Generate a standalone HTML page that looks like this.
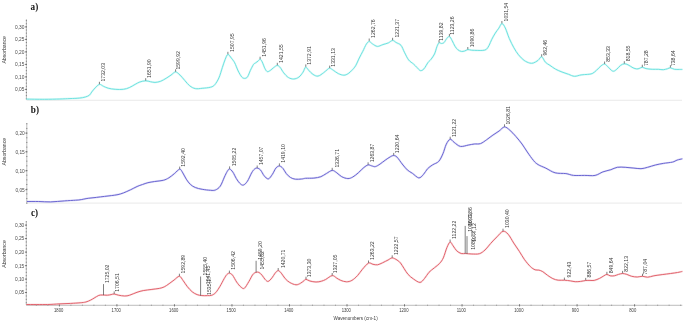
<!DOCTYPE html>
<html><head><meta charset="utf-8"><title>FTIR spectra</title>
<style>
html,body{margin:0;padding:0;background:#fff;width:685px;height:324px;overflow:hidden;font-family:"Liberation Sans",sans-serif;}
svg{display:block;will-change:transform;}
</style></head><body>
<svg width="685" height="324" viewBox="0 0 685 324" font-family="Liberation Sans, sans-serif" fill="#333"><rect x="0" y="0" width="685" height="324" fill="#fff"/>
<line x1="26.5" y1="100.3" x2="682" y2="100.3" stroke="#e4e4e4" stroke-width="0.8"/>
<line x1="26.5" y1="203.1" x2="682" y2="203.1" stroke="#e4e4e4" stroke-width="0.8"/>
<text x="0" y="9.90" font-family="Liberation Serif" font-weight="bold" font-size="10" fill="#111" transform="translate(30.60,0) scale(0.92,1)">a)</text>
<text x="0" y="112.70" font-family="Liberation Serif" font-weight="bold" font-size="10" fill="#111" transform="translate(30.80,0) scale(0.92,1)">b)</text>
<text x="0" y="215.80" font-family="Liberation Serif" font-weight="bold" font-size="10" fill="#111" transform="translate(30.90,0) scale(0.92,1)">c)</text>
<line x1="26.40" y1="19.20" x2="26.40" y2="99.60" stroke="#a0a0a0" stroke-width="0.7"/><line x1="25.85" y1="20.65" x2="26.95" y2="20.65" stroke="#707070" stroke-width="0.8"/><line x1="25.85" y1="23.77" x2="26.95" y2="23.77" stroke="#707070" stroke-width="0.8"/><line x1="25.85" y1="26.90" x2="26.95" y2="26.90" stroke="#707070" stroke-width="0.8"/><line x1="25.85" y1="30.02" x2="26.95" y2="30.02" stroke="#707070" stroke-width="0.8"/><line x1="25.85" y1="33.15" x2="26.95" y2="33.15" stroke="#707070" stroke-width="0.8"/><line x1="25.85" y1="36.27" x2="26.95" y2="36.27" stroke="#707070" stroke-width="0.8"/><line x1="25.85" y1="39.40" x2="26.95" y2="39.40" stroke="#707070" stroke-width="0.8"/><line x1="25.85" y1="42.52" x2="26.95" y2="42.52" stroke="#707070" stroke-width="0.8"/><line x1="25.85" y1="45.65" x2="26.95" y2="45.65" stroke="#707070" stroke-width="0.8"/><line x1="25.85" y1="48.77" x2="26.95" y2="48.77" stroke="#707070" stroke-width="0.8"/><line x1="25.85" y1="51.90" x2="26.95" y2="51.90" stroke="#707070" stroke-width="0.8"/><line x1="25.85" y1="55.02" x2="26.95" y2="55.02" stroke="#707070" stroke-width="0.8"/><line x1="25.85" y1="58.15" x2="26.95" y2="58.15" stroke="#707070" stroke-width="0.8"/><line x1="25.85" y1="61.27" x2="26.95" y2="61.27" stroke="#707070" stroke-width="0.8"/><line x1="25.85" y1="64.40" x2="26.95" y2="64.40" stroke="#707070" stroke-width="0.8"/><line x1="25.85" y1="67.53" x2="26.95" y2="67.53" stroke="#707070" stroke-width="0.8"/><line x1="25.85" y1="70.65" x2="26.95" y2="70.65" stroke="#707070" stroke-width="0.8"/><line x1="25.85" y1="73.78" x2="26.95" y2="73.78" stroke="#707070" stroke-width="0.8"/><line x1="25.85" y1="76.90" x2="26.95" y2="76.90" stroke="#707070" stroke-width="0.8"/><line x1="25.85" y1="80.03" x2="26.95" y2="80.03" stroke="#707070" stroke-width="0.8"/><line x1="25.85" y1="83.15" x2="26.95" y2="83.15" stroke="#707070" stroke-width="0.8"/><line x1="25.85" y1="86.28" x2="26.95" y2="86.28" stroke="#707070" stroke-width="0.8"/><line x1="25.85" y1="89.40" x2="26.95" y2="89.40" stroke="#707070" stroke-width="0.8"/><line x1="25.85" y1="92.53" x2="26.95" y2="92.53" stroke="#707070" stroke-width="0.8"/><line x1="25.85" y1="95.65" x2="26.95" y2="95.65" stroke="#707070" stroke-width="0.8"/><line x1="25.85" y1="98.78" x2="26.95" y2="98.78" stroke="#707070" stroke-width="0.8"/><line x1="25.00" y1="26.90" x2="26.80" y2="26.90" stroke="#555" stroke-width="0.75"/><text x="24.40" y="28.75" font-size="5.30" text-anchor="end" textLength="9.4" lengthAdjust="spacingAndGlyphs" fill="#4a4a4a">0,30</text><line x1="25.00" y1="39.40" x2="26.80" y2="39.40" stroke="#555" stroke-width="0.75"/><text x="24.40" y="41.25" font-size="5.30" text-anchor="end" textLength="9.4" lengthAdjust="spacingAndGlyphs" fill="#4a4a4a">0,25</text><line x1="25.00" y1="51.90" x2="26.80" y2="51.90" stroke="#555" stroke-width="0.75"/><text x="24.40" y="53.75" font-size="5.30" text-anchor="end" textLength="9.4" lengthAdjust="spacingAndGlyphs" fill="#4a4a4a">0,20</text><line x1="25.00" y1="64.40" x2="26.80" y2="64.40" stroke="#555" stroke-width="0.75"/><text x="24.40" y="66.25" font-size="5.30" text-anchor="end" textLength="9.4" lengthAdjust="spacingAndGlyphs" fill="#4a4a4a">0,15</text><line x1="25.00" y1="76.90" x2="26.80" y2="76.90" stroke="#555" stroke-width="0.75"/><text x="24.40" y="78.75" font-size="5.30" text-anchor="end" textLength="9.4" lengthAdjust="spacingAndGlyphs" fill="#4a4a4a">0,10</text><line x1="25.00" y1="89.40" x2="26.80" y2="89.40" stroke="#555" stroke-width="0.75"/><text x="24.40" y="91.25" font-size="5.30" text-anchor="end" textLength="9.4" lengthAdjust="spacingAndGlyphs" fill="#4a4a4a">0,05</text>
<line x1="26.80" y1="123.00" x2="26.80" y2="203.40" stroke="#a0a0a0" stroke-width="0.7"/><line x1="26.25" y1="123.75" x2="27.35" y2="123.75" stroke="#707070" stroke-width="0.8"/><line x1="26.25" y1="128.43" x2="27.35" y2="128.43" stroke="#707070" stroke-width="0.8"/><line x1="26.25" y1="133.10" x2="27.35" y2="133.10" stroke="#707070" stroke-width="0.8"/><line x1="26.25" y1="137.78" x2="27.35" y2="137.78" stroke="#707070" stroke-width="0.8"/><line x1="26.25" y1="142.45" x2="27.35" y2="142.45" stroke="#707070" stroke-width="0.8"/><line x1="26.25" y1="147.13" x2="27.35" y2="147.13" stroke="#707070" stroke-width="0.8"/><line x1="26.25" y1="151.80" x2="27.35" y2="151.80" stroke="#707070" stroke-width="0.8"/><line x1="26.25" y1="156.48" x2="27.35" y2="156.48" stroke="#707070" stroke-width="0.8"/><line x1="26.25" y1="161.15" x2="27.35" y2="161.15" stroke="#707070" stroke-width="0.8"/><line x1="26.25" y1="165.83" x2="27.35" y2="165.83" stroke="#707070" stroke-width="0.8"/><line x1="26.25" y1="170.50" x2="27.35" y2="170.50" stroke="#707070" stroke-width="0.8"/><line x1="26.25" y1="175.18" x2="27.35" y2="175.18" stroke="#707070" stroke-width="0.8"/><line x1="26.25" y1="179.85" x2="27.35" y2="179.85" stroke="#707070" stroke-width="0.8"/><line x1="26.25" y1="184.53" x2="27.35" y2="184.53" stroke="#707070" stroke-width="0.8"/><line x1="26.25" y1="189.20" x2="27.35" y2="189.20" stroke="#707070" stroke-width="0.8"/><line x1="26.25" y1="193.88" x2="27.35" y2="193.88" stroke="#707070" stroke-width="0.8"/><line x1="26.25" y1="198.55" x2="27.35" y2="198.55" stroke="#707070" stroke-width="0.8"/><line x1="26.25" y1="203.23" x2="27.35" y2="203.23" stroke="#707070" stroke-width="0.8"/><line x1="25.40" y1="133.10" x2="27.20" y2="133.10" stroke="#555" stroke-width="0.75"/><text x="24.80" y="134.95" font-size="5.30" text-anchor="end" textLength="9.4" lengthAdjust="spacingAndGlyphs" fill="#4a4a4a">0,20</text><line x1="25.40" y1="151.80" x2="27.20" y2="151.80" stroke="#555" stroke-width="0.75"/><text x="24.80" y="153.65" font-size="5.30" text-anchor="end" textLength="9.4" lengthAdjust="spacingAndGlyphs" fill="#4a4a4a">0,15</text><line x1="25.40" y1="170.80" x2="27.20" y2="170.80" stroke="#555" stroke-width="0.75"/><text x="24.80" y="172.65" font-size="5.30" text-anchor="end" textLength="9.4" lengthAdjust="spacingAndGlyphs" fill="#4a4a4a">0,10</text><line x1="25.40" y1="189.70" x2="27.20" y2="189.70" stroke="#555" stroke-width="0.75"/><text x="24.80" y="191.55" font-size="5.30" text-anchor="end" textLength="9.4" lengthAdjust="spacingAndGlyphs" fill="#4a4a4a">0,05</text>
<line x1="26.30" y1="221.40" x2="26.30" y2="305.00" stroke="#a0a0a0" stroke-width="0.7"/><line x1="25.75" y1="221.72" x2="26.85" y2="221.72" stroke="#707070" stroke-width="0.8"/><line x1="25.75" y1="225.10" x2="26.85" y2="225.10" stroke="#707070" stroke-width="0.8"/><line x1="25.75" y1="228.47" x2="26.85" y2="228.47" stroke="#707070" stroke-width="0.8"/><line x1="25.75" y1="231.85" x2="26.85" y2="231.85" stroke="#707070" stroke-width="0.8"/><line x1="25.75" y1="235.22" x2="26.85" y2="235.22" stroke="#707070" stroke-width="0.8"/><line x1="25.75" y1="238.60" x2="26.85" y2="238.60" stroke="#707070" stroke-width="0.8"/><line x1="25.75" y1="241.97" x2="26.85" y2="241.97" stroke="#707070" stroke-width="0.8"/><line x1="25.75" y1="245.35" x2="26.85" y2="245.35" stroke="#707070" stroke-width="0.8"/><line x1="25.75" y1="248.72" x2="26.85" y2="248.72" stroke="#707070" stroke-width="0.8"/><line x1="25.75" y1="252.10" x2="26.85" y2="252.10" stroke="#707070" stroke-width="0.8"/><line x1="25.75" y1="255.47" x2="26.85" y2="255.47" stroke="#707070" stroke-width="0.8"/><line x1="25.75" y1="258.85" x2="26.85" y2="258.85" stroke="#707070" stroke-width="0.8"/><line x1="25.75" y1="262.23" x2="26.85" y2="262.23" stroke="#707070" stroke-width="0.8"/><line x1="25.75" y1="265.60" x2="26.85" y2="265.60" stroke="#707070" stroke-width="0.8"/><line x1="25.75" y1="268.98" x2="26.85" y2="268.98" stroke="#707070" stroke-width="0.8"/><line x1="25.75" y1="272.35" x2="26.85" y2="272.35" stroke="#707070" stroke-width="0.8"/><line x1="25.75" y1="275.73" x2="26.85" y2="275.73" stroke="#707070" stroke-width="0.8"/><line x1="25.75" y1="279.10" x2="26.85" y2="279.10" stroke="#707070" stroke-width="0.8"/><line x1="25.75" y1="282.48" x2="26.85" y2="282.48" stroke="#707070" stroke-width="0.8"/><line x1="25.75" y1="285.85" x2="26.85" y2="285.85" stroke="#707070" stroke-width="0.8"/><line x1="25.75" y1="289.23" x2="26.85" y2="289.23" stroke="#707070" stroke-width="0.8"/><line x1="25.75" y1="292.60" x2="26.85" y2="292.60" stroke="#707070" stroke-width="0.8"/><line x1="25.75" y1="295.98" x2="26.85" y2="295.98" stroke="#707070" stroke-width="0.8"/><line x1="25.75" y1="299.35" x2="26.85" y2="299.35" stroke="#707070" stroke-width="0.8"/><line x1="25.75" y1="302.73" x2="26.85" y2="302.73" stroke="#707070" stroke-width="0.8"/><line x1="24.90" y1="225.10" x2="26.70" y2="225.10" stroke="#555" stroke-width="0.75"/><text x="24.30" y="226.95" font-size="5.30" text-anchor="end" textLength="9.4" lengthAdjust="spacingAndGlyphs" fill="#4a4a4a">0,30</text><line x1="24.90" y1="238.60" x2="26.70" y2="238.60" stroke="#555" stroke-width="0.75"/><text x="24.30" y="240.45" font-size="5.30" text-anchor="end" textLength="9.4" lengthAdjust="spacingAndGlyphs" fill="#4a4a4a">0,25</text><line x1="24.90" y1="252.10" x2="26.70" y2="252.10" stroke="#555" stroke-width="0.75"/><text x="24.30" y="253.95" font-size="5.30" text-anchor="end" textLength="9.4" lengthAdjust="spacingAndGlyphs" fill="#4a4a4a">0,20</text><line x1="24.90" y1="265.70" x2="26.70" y2="265.70" stroke="#555" stroke-width="0.75"/><text x="24.30" y="267.55" font-size="5.30" text-anchor="end" textLength="9.4" lengthAdjust="spacingAndGlyphs" fill="#4a4a4a">0,15</text><line x1="24.90" y1="279.10" x2="26.70" y2="279.10" stroke="#555" stroke-width="0.75"/><text x="24.30" y="280.95" font-size="5.30" text-anchor="end" textLength="9.4" lengthAdjust="spacingAndGlyphs" fill="#4a4a4a">0,10</text><line x1="24.90" y1="292.50" x2="26.70" y2="292.50" stroke="#555" stroke-width="0.75"/><text x="24.30" y="294.35" font-size="5.30" text-anchor="end" textLength="9.4" lengthAdjust="spacingAndGlyphs" fill="#4a4a4a">0,05</text>
<text transform="translate(6.30,49.80) rotate(-90)" font-size="5.1" text-anchor="middle" textLength="27.6" lengthAdjust="spacingAndGlyphs" fill="#3c3c3c">Absorbance</text>
<text transform="translate(6.30,151.70) rotate(-90)" font-size="5.1" text-anchor="middle" textLength="27.6" lengthAdjust="spacingAndGlyphs" fill="#3c3c3c">Absorbance</text>
<text transform="translate(6.30,254.00) rotate(-90)" font-size="5.1" text-anchor="middle" textLength="27.6" lengthAdjust="spacingAndGlyphs" fill="#3c3c3c">Absorbance</text>
<line x1="26.2" y1="305.3" x2="682.3" y2="305.3" stroke="#a0a0a0" stroke-width="0.7"/><line x1="36.39" y1="304.6" x2="36.39" y2="306.0" stroke="#8a8a8a" stroke-width="0.6"/><line x1="47.90" y1="304.6" x2="47.90" y2="306.0" stroke="#8a8a8a" stroke-width="0.6"/><line x1="59.40" y1="304.2" x2="59.40" y2="306.5" stroke="#555" stroke-width="0.75"/><text x="54.05" y="311.9" font-size="5.00" text-anchor="start" textLength="9.30" lengthAdjust="spacingAndGlyphs" fill="#3c3c3c">1800</text><line x1="70.90" y1="304.6" x2="70.90" y2="306.0" stroke="#8a8a8a" stroke-width="0.6"/><line x1="82.41" y1="304.6" x2="82.41" y2="306.0" stroke="#8a8a8a" stroke-width="0.6"/><line x1="93.91" y1="304.6" x2="93.91" y2="306.0" stroke="#8a8a8a" stroke-width="0.6"/><line x1="105.42" y1="304.6" x2="105.42" y2="306.0" stroke="#8a8a8a" stroke-width="0.6"/><line x1="116.92" y1="304.2" x2="116.92" y2="306.5" stroke="#555" stroke-width="0.75"/><text x="111.57" y="311.9" font-size="5.00" text-anchor="start" textLength="9.30" lengthAdjust="spacingAndGlyphs" fill="#3c3c3c">1700</text><line x1="128.42" y1="304.6" x2="128.42" y2="306.0" stroke="#8a8a8a" stroke-width="0.6"/><line x1="139.93" y1="304.6" x2="139.93" y2="306.0" stroke="#8a8a8a" stroke-width="0.6"/><line x1="151.43" y1="304.6" x2="151.43" y2="306.0" stroke="#8a8a8a" stroke-width="0.6"/><line x1="162.94" y1="304.6" x2="162.94" y2="306.0" stroke="#8a8a8a" stroke-width="0.6"/><line x1="174.44" y1="304.2" x2="174.44" y2="306.5" stroke="#555" stroke-width="0.75"/><text x="169.09" y="311.9" font-size="5.00" text-anchor="start" textLength="9.30" lengthAdjust="spacingAndGlyphs" fill="#3c3c3c">1600</text><line x1="185.94" y1="304.6" x2="185.94" y2="306.0" stroke="#8a8a8a" stroke-width="0.6"/><line x1="197.45" y1="304.6" x2="197.45" y2="306.0" stroke="#8a8a8a" stroke-width="0.6"/><line x1="208.95" y1="304.6" x2="208.95" y2="306.0" stroke="#8a8a8a" stroke-width="0.6"/><line x1="220.46" y1="304.6" x2="220.46" y2="306.0" stroke="#8a8a8a" stroke-width="0.6"/><line x1="231.96" y1="304.2" x2="231.96" y2="306.5" stroke="#555" stroke-width="0.75"/><text x="226.61" y="311.9" font-size="5.00" text-anchor="start" textLength="9.30" lengthAdjust="spacingAndGlyphs" fill="#3c3c3c">1500</text><line x1="243.46" y1="304.6" x2="243.46" y2="306.0" stroke="#8a8a8a" stroke-width="0.6"/><line x1="254.97" y1="304.6" x2="254.97" y2="306.0" stroke="#8a8a8a" stroke-width="0.6"/><line x1="266.47" y1="304.6" x2="266.47" y2="306.0" stroke="#8a8a8a" stroke-width="0.6"/><line x1="277.98" y1="304.6" x2="277.98" y2="306.0" stroke="#8a8a8a" stroke-width="0.6"/><line x1="289.48" y1="304.2" x2="289.48" y2="306.5" stroke="#555" stroke-width="0.75"/><text x="284.13" y="311.9" font-size="5.00" text-anchor="start" textLength="9.30" lengthAdjust="spacingAndGlyphs" fill="#3c3c3c">1400</text><line x1="300.98" y1="304.6" x2="300.98" y2="306.0" stroke="#8a8a8a" stroke-width="0.6"/><line x1="312.49" y1="304.6" x2="312.49" y2="306.0" stroke="#8a8a8a" stroke-width="0.6"/><line x1="323.99" y1="304.6" x2="323.99" y2="306.0" stroke="#8a8a8a" stroke-width="0.6"/><line x1="335.50" y1="304.6" x2="335.50" y2="306.0" stroke="#8a8a8a" stroke-width="0.6"/><line x1="347.00" y1="304.2" x2="347.00" y2="306.5" stroke="#555" stroke-width="0.75"/><text x="341.65" y="311.9" font-size="5.00" text-anchor="start" textLength="9.30" lengthAdjust="spacingAndGlyphs" fill="#3c3c3c">1300</text><line x1="358.50" y1="304.6" x2="358.50" y2="306.0" stroke="#8a8a8a" stroke-width="0.6"/><line x1="370.01" y1="304.6" x2="370.01" y2="306.0" stroke="#8a8a8a" stroke-width="0.6"/><line x1="381.51" y1="304.6" x2="381.51" y2="306.0" stroke="#8a8a8a" stroke-width="0.6"/><line x1="393.02" y1="304.6" x2="393.02" y2="306.0" stroke="#8a8a8a" stroke-width="0.6"/><line x1="404.52" y1="304.2" x2="404.52" y2="306.5" stroke="#555" stroke-width="0.75"/><text x="399.17" y="311.9" font-size="5.00" text-anchor="start" textLength="9.30" lengthAdjust="spacingAndGlyphs" fill="#3c3c3c">1200</text><line x1="416.02" y1="304.6" x2="416.02" y2="306.0" stroke="#8a8a8a" stroke-width="0.6"/><line x1="427.53" y1="304.6" x2="427.53" y2="306.0" stroke="#8a8a8a" stroke-width="0.6"/><line x1="439.03" y1="304.6" x2="439.03" y2="306.0" stroke="#8a8a8a" stroke-width="0.6"/><line x1="450.54" y1="304.6" x2="450.54" y2="306.0" stroke="#8a8a8a" stroke-width="0.6"/><line x1="462.04" y1="304.2" x2="462.04" y2="306.5" stroke="#555" stroke-width="0.75"/><text x="456.69" y="311.9" font-size="5.00" text-anchor="start" textLength="9.30" lengthAdjust="spacingAndGlyphs" fill="#3c3c3c">1100</text><line x1="473.54" y1="304.6" x2="473.54" y2="306.0" stroke="#8a8a8a" stroke-width="0.6"/><line x1="485.05" y1="304.6" x2="485.05" y2="306.0" stroke="#8a8a8a" stroke-width="0.6"/><line x1="496.55" y1="304.6" x2="496.55" y2="306.0" stroke="#8a8a8a" stroke-width="0.6"/><line x1="508.06" y1="304.6" x2="508.06" y2="306.0" stroke="#8a8a8a" stroke-width="0.6"/><line x1="519.56" y1="304.2" x2="519.56" y2="306.5" stroke="#555" stroke-width="0.75"/><text x="514.21" y="311.9" font-size="5.00" text-anchor="start" textLength="9.30" lengthAdjust="spacingAndGlyphs" fill="#3c3c3c">1000</text><line x1="531.06" y1="304.6" x2="531.06" y2="306.0" stroke="#8a8a8a" stroke-width="0.6"/><line x1="542.57" y1="304.6" x2="542.57" y2="306.0" stroke="#8a8a8a" stroke-width="0.6"/><line x1="554.07" y1="304.6" x2="554.07" y2="306.0" stroke="#8a8a8a" stroke-width="0.6"/><line x1="565.58" y1="304.6" x2="565.58" y2="306.0" stroke="#8a8a8a" stroke-width="0.6"/><line x1="577.08" y1="304.2" x2="577.08" y2="306.5" stroke="#555" stroke-width="0.75"/><text x="571.73" y="311.9" font-size="5.00" text-anchor="start" textLength="7.00" lengthAdjust="spacingAndGlyphs" fill="#3c3c3c">900</text><line x1="588.58" y1="304.6" x2="588.58" y2="306.0" stroke="#8a8a8a" stroke-width="0.6"/><line x1="600.09" y1="304.6" x2="600.09" y2="306.0" stroke="#8a8a8a" stroke-width="0.6"/><line x1="611.59" y1="304.6" x2="611.59" y2="306.0" stroke="#8a8a8a" stroke-width="0.6"/><line x1="623.10" y1="304.6" x2="623.10" y2="306.0" stroke="#8a8a8a" stroke-width="0.6"/><line x1="634.60" y1="304.2" x2="634.60" y2="306.5" stroke="#555" stroke-width="0.75"/><text x="629.25" y="311.9" font-size="5.00" text-anchor="start" textLength="7.00" lengthAdjust="spacingAndGlyphs" fill="#3c3c3c">800</text><line x1="646.10" y1="304.6" x2="646.10" y2="306.0" stroke="#8a8a8a" stroke-width="0.6"/><line x1="657.61" y1="304.6" x2="657.61" y2="306.0" stroke="#8a8a8a" stroke-width="0.6"/><line x1="669.11" y1="304.6" x2="669.11" y2="306.0" stroke="#8a8a8a" stroke-width="0.6"/><line x1="680.62" y1="304.6" x2="680.62" y2="306.0" stroke="#8a8a8a" stroke-width="0.6"/>
<text x="355.6" y="320.3" font-size="5.2" text-anchor="middle" textLength="44.2" lengthAdjust="spacingAndGlyphs" fill="#3c3c3c">Wavenumbers (cm-1)</text>
<path d="M26.30,99.10 C29.32,99.13 38.82,99.32 44.40,99.30 C49.98,99.28 55.53,99.12 59.80,99.00 C64.07,98.88 66.77,98.75 70.00,98.60 C73.23,98.45 76.65,98.37 79.20,98.10 C81.75,97.83 83.60,97.48 85.30,97.00 C87.00,96.52 88.33,96.03 89.40,95.20 C90.47,94.37 90.73,93.22 91.70,92.00 C92.67,90.78 93.92,89.17 95.20,87.90 C96.48,86.63 98.02,84.67 99.40,84.40 C100.78,84.13 102.03,85.67 103.50,86.30 C104.97,86.93 106.25,87.70 108.20,88.20 C110.15,88.70 112.67,89.12 115.20,89.30 C117.73,89.48 121.05,89.58 123.40,89.30 C125.75,89.02 127.35,88.42 129.30,87.60 C131.25,86.78 133.35,85.33 135.10,84.40 C136.85,83.47 138.03,82.60 139.80,82.00 C141.57,81.40 143.93,80.85 145.70,80.80 C147.47,80.75 148.85,81.43 150.40,81.70 C151.95,81.97 153.30,82.47 155.00,82.40 C156.70,82.33 158.75,81.98 160.60,81.30 C162.45,80.62 164.37,79.33 166.10,78.30 C167.83,77.27 169.42,76.17 171.00,75.10 C172.58,74.03 174.10,71.90 175.60,71.90 C177.10,71.90 178.45,73.65 180.00,75.10 C181.55,76.55 183.28,78.82 184.90,80.60 C186.52,82.38 187.97,84.47 189.70,85.80 C191.43,87.13 193.22,88.18 195.30,88.60 C197.38,89.02 199.65,88.53 202.20,88.30 C204.75,88.07 208.52,87.78 210.60,87.20 C212.68,86.62 213.32,86.35 214.70,84.80 C216.08,83.25 217.62,80.80 218.90,77.90 C220.18,75.00 221.37,70.45 222.40,67.40 C223.43,64.35 224.18,61.77 225.10,59.60 C226.02,57.43 226.85,54.63 227.90,54.40 C228.95,54.17 230.27,56.80 231.40,58.20 C232.53,59.60 233.57,60.67 234.70,62.80 C235.83,64.93 237.03,68.65 238.20,71.00 C239.37,73.35 240.63,75.67 241.70,76.90 C242.77,78.13 243.63,78.40 244.60,78.40 C245.57,78.40 246.53,78.23 247.50,76.90 C248.47,75.57 249.42,72.45 250.40,70.40 C251.38,68.35 252.52,65.87 253.40,64.60 C254.28,63.33 254.93,63.38 255.70,62.80 C256.47,62.22 257.27,61.68 258.00,61.10 C258.73,60.52 259.42,59.20 260.10,59.30 C260.78,59.40 261.28,60.13 262.10,61.70 C262.92,63.27 264.12,67.05 265.00,68.70 C265.88,70.35 266.52,71.32 267.40,71.60 C268.28,71.88 269.23,71.08 270.30,70.40 C271.37,69.72 272.63,68.33 273.80,67.50 C274.97,66.67 276.23,65.40 277.30,65.40 C278.37,65.40 279.13,66.27 280.20,67.50 C281.27,68.73 282.33,71.13 283.70,72.80 C285.07,74.47 286.73,76.47 288.40,77.50 C290.07,78.53 291.95,79.07 293.70,79.00 C295.45,78.93 297.35,78.23 298.90,77.10 C300.45,75.97 301.88,73.85 303.00,72.20 C304.12,70.55 304.65,67.52 305.60,67.20 C306.55,66.88 307.47,69.10 308.70,70.30 C309.93,71.50 311.45,73.43 313.00,74.40 C314.55,75.37 316.25,76.37 318.00,76.10 C319.75,75.83 321.97,73.87 323.50,72.80 C325.03,71.73 326.17,70.47 327.20,69.70 C328.23,68.93 328.67,68.10 329.70,68.20 C330.73,68.30 331.97,69.40 333.40,70.30 C334.83,71.20 336.55,72.78 338.30,73.60 C340.05,74.42 342.25,75.20 343.90,75.20 C345.55,75.20 346.87,74.42 348.20,73.60 C349.53,72.78 350.67,71.60 351.90,70.30 C353.13,69.00 354.37,67.85 355.60,65.80 C356.83,63.75 358.10,60.42 359.30,58.00 C360.50,55.58 361.63,53.60 362.80,51.30 C363.97,49.00 365.23,45.83 366.30,44.20 C367.37,42.57 368.17,41.55 369.20,41.50 C370.23,41.45 371.13,43.08 372.50,43.90 C373.87,44.72 375.67,46.28 377.40,46.40 C379.13,46.52 381.05,45.20 382.90,44.60 C384.75,44.00 386.88,43.50 388.50,42.80 C390.12,42.10 391.33,40.45 392.60,40.40 C393.87,40.35 394.70,41.68 396.10,42.50 C397.50,43.32 399.62,43.68 401.00,45.30 C402.38,46.92 403.13,49.77 404.40,52.20 C405.67,54.63 407.08,57.93 408.60,59.90 C410.12,61.87 412.10,62.73 413.50,64.00 C414.90,65.27 415.85,66.40 417.00,67.50 C418.15,68.60 419.25,70.37 420.40,70.60 C421.55,70.83 422.63,70.25 423.90,68.90 C425.17,67.55 426.82,64.10 428.00,62.50 C429.18,60.90 429.92,60.72 431.00,59.30 C432.08,57.88 433.50,56.13 434.50,54.00 C435.50,51.87 436.25,48.37 437.00,46.50 C437.75,44.63 438.25,43.30 439.00,42.80 C439.75,42.30 440.67,43.53 441.50,43.50 C442.33,43.47 443.13,43.42 444.00,42.60 C444.87,41.78 445.80,39.62 446.70,38.60 C447.60,37.58 448.48,36.15 449.40,36.50 C450.32,36.85 451.27,39.07 452.20,40.70 C453.13,42.33 454.07,44.80 455.00,46.30 C455.93,47.80 456.75,48.85 457.80,49.70 C458.85,50.55 460.15,51.18 461.30,51.40 C462.45,51.62 463.62,51.30 464.70,51.00 C465.78,50.70 466.63,49.73 467.80,49.60 C468.97,49.47 470.13,50.07 471.70,50.20 C473.27,50.33 475.35,50.37 477.20,50.40 C479.05,50.43 481.28,50.57 482.80,50.40 C484.32,50.23 485.27,50.20 486.30,49.40 C487.33,48.60 488.08,47.28 489.00,45.60 C489.92,43.92 490.75,41.38 491.80,39.30 C492.85,37.22 494.13,34.95 495.30,33.10 C496.47,31.25 497.70,29.78 498.80,28.20 C499.90,26.62 500.82,23.63 501.90,23.60 C502.98,23.57 504.07,25.52 505.30,28.00 C506.53,30.48 507.87,35.20 509.30,38.50 C510.73,41.80 512.37,45.08 513.90,47.80 C515.43,50.52 516.80,52.70 518.50,54.80 C520.20,56.90 522.25,59.03 524.10,60.40 C525.95,61.77 528.07,62.57 529.60,63.00 C531.13,63.43 531.90,63.43 533.30,63.00 C534.70,62.57 536.60,61.43 538.00,60.40 C539.40,59.37 540.47,56.50 541.70,56.80 C542.93,57.10 544.02,60.77 545.40,62.20 C546.78,63.63 548.30,64.23 550.00,65.40 C551.70,66.57 553.60,68.10 555.60,69.20 C557.60,70.30 559.85,71.15 562.00,72.00 C564.15,72.85 566.42,73.58 568.50,74.30 C570.58,75.02 572.40,76.20 574.50,76.30 C576.60,76.40 578.97,75.22 581.10,74.90 C583.23,74.58 585.45,74.62 587.30,74.40 C589.15,74.18 590.67,74.28 592.20,73.60 C593.73,72.92 595.05,71.57 596.50,70.30 C597.95,69.03 599.55,67.03 600.90,66.00 C602.25,64.97 603.37,63.90 604.60,64.10 C605.83,64.30 607.17,66.17 608.30,67.20 C609.43,68.23 610.48,69.63 611.40,70.30 C612.32,70.97 612.88,71.40 613.80,71.20 C614.72,71.00 615.77,70.07 616.90,69.10 C618.03,68.13 619.37,66.28 620.60,65.40 C621.83,64.52 623.07,63.90 624.30,63.80 C625.53,63.70 626.55,64.13 628.00,64.80 C629.45,65.47 631.55,67.12 633.00,67.80 C634.45,68.48 635.67,68.78 636.70,68.90 C637.73,69.02 638.27,68.77 639.20,68.50 C640.13,68.23 641.17,67.28 642.30,67.30 C643.43,67.32 644.35,68.27 646.00,68.60 C647.65,68.93 650.15,69.18 652.20,69.30 C654.25,69.42 656.45,69.23 658.30,69.30 C660.15,69.37 661.75,69.80 663.30,69.70 C664.85,69.60 666.42,69.02 667.60,68.70 C668.78,68.38 669.27,67.70 670.40,67.80 C671.53,67.90 672.92,69.03 674.40,69.30 C675.88,69.57 677.97,69.38 679.30,69.40 C680.63,69.42 681.88,69.40 682.40,69.40" fill="none" stroke="#9ef0ec" stroke-width="2.0" stroke-opacity="0.35" stroke-linejoin="round"/><path d="M26.30,99.10 C29.32,99.13 38.82,99.32 44.40,99.30 C49.98,99.28 55.53,99.12 59.80,99.00 C64.07,98.88 66.77,98.75 70.00,98.60 C73.23,98.45 76.65,98.37 79.20,98.10 C81.75,97.83 83.60,97.48 85.30,97.00 C87.00,96.52 88.33,96.03 89.40,95.20 C90.47,94.37 90.73,93.22 91.70,92.00 C92.67,90.78 93.92,89.17 95.20,87.90 C96.48,86.63 98.02,84.67 99.40,84.40 C100.78,84.13 102.03,85.67 103.50,86.30 C104.97,86.93 106.25,87.70 108.20,88.20 C110.15,88.70 112.67,89.12 115.20,89.30 C117.73,89.48 121.05,89.58 123.40,89.30 C125.75,89.02 127.35,88.42 129.30,87.60 C131.25,86.78 133.35,85.33 135.10,84.40 C136.85,83.47 138.03,82.60 139.80,82.00 C141.57,81.40 143.93,80.85 145.70,80.80 C147.47,80.75 148.85,81.43 150.40,81.70 C151.95,81.97 153.30,82.47 155.00,82.40 C156.70,82.33 158.75,81.98 160.60,81.30 C162.45,80.62 164.37,79.33 166.10,78.30 C167.83,77.27 169.42,76.17 171.00,75.10 C172.58,74.03 174.10,71.90 175.60,71.90 C177.10,71.90 178.45,73.65 180.00,75.10 C181.55,76.55 183.28,78.82 184.90,80.60 C186.52,82.38 187.97,84.47 189.70,85.80 C191.43,87.13 193.22,88.18 195.30,88.60 C197.38,89.02 199.65,88.53 202.20,88.30 C204.75,88.07 208.52,87.78 210.60,87.20 C212.68,86.62 213.32,86.35 214.70,84.80 C216.08,83.25 217.62,80.80 218.90,77.90 C220.18,75.00 221.37,70.45 222.40,67.40 C223.43,64.35 224.18,61.77 225.10,59.60 C226.02,57.43 226.85,54.63 227.90,54.40 C228.95,54.17 230.27,56.80 231.40,58.20 C232.53,59.60 233.57,60.67 234.70,62.80 C235.83,64.93 237.03,68.65 238.20,71.00 C239.37,73.35 240.63,75.67 241.70,76.90 C242.77,78.13 243.63,78.40 244.60,78.40 C245.57,78.40 246.53,78.23 247.50,76.90 C248.47,75.57 249.42,72.45 250.40,70.40 C251.38,68.35 252.52,65.87 253.40,64.60 C254.28,63.33 254.93,63.38 255.70,62.80 C256.47,62.22 257.27,61.68 258.00,61.10 C258.73,60.52 259.42,59.20 260.10,59.30 C260.78,59.40 261.28,60.13 262.10,61.70 C262.92,63.27 264.12,67.05 265.00,68.70 C265.88,70.35 266.52,71.32 267.40,71.60 C268.28,71.88 269.23,71.08 270.30,70.40 C271.37,69.72 272.63,68.33 273.80,67.50 C274.97,66.67 276.23,65.40 277.30,65.40 C278.37,65.40 279.13,66.27 280.20,67.50 C281.27,68.73 282.33,71.13 283.70,72.80 C285.07,74.47 286.73,76.47 288.40,77.50 C290.07,78.53 291.95,79.07 293.70,79.00 C295.45,78.93 297.35,78.23 298.90,77.10 C300.45,75.97 301.88,73.85 303.00,72.20 C304.12,70.55 304.65,67.52 305.60,67.20 C306.55,66.88 307.47,69.10 308.70,70.30 C309.93,71.50 311.45,73.43 313.00,74.40 C314.55,75.37 316.25,76.37 318.00,76.10 C319.75,75.83 321.97,73.87 323.50,72.80 C325.03,71.73 326.17,70.47 327.20,69.70 C328.23,68.93 328.67,68.10 329.70,68.20 C330.73,68.30 331.97,69.40 333.40,70.30 C334.83,71.20 336.55,72.78 338.30,73.60 C340.05,74.42 342.25,75.20 343.90,75.20 C345.55,75.20 346.87,74.42 348.20,73.60 C349.53,72.78 350.67,71.60 351.90,70.30 C353.13,69.00 354.37,67.85 355.60,65.80 C356.83,63.75 358.10,60.42 359.30,58.00 C360.50,55.58 361.63,53.60 362.80,51.30 C363.97,49.00 365.23,45.83 366.30,44.20 C367.37,42.57 368.17,41.55 369.20,41.50 C370.23,41.45 371.13,43.08 372.50,43.90 C373.87,44.72 375.67,46.28 377.40,46.40 C379.13,46.52 381.05,45.20 382.90,44.60 C384.75,44.00 386.88,43.50 388.50,42.80 C390.12,42.10 391.33,40.45 392.60,40.40 C393.87,40.35 394.70,41.68 396.10,42.50 C397.50,43.32 399.62,43.68 401.00,45.30 C402.38,46.92 403.13,49.77 404.40,52.20 C405.67,54.63 407.08,57.93 408.60,59.90 C410.12,61.87 412.10,62.73 413.50,64.00 C414.90,65.27 415.85,66.40 417.00,67.50 C418.15,68.60 419.25,70.37 420.40,70.60 C421.55,70.83 422.63,70.25 423.90,68.90 C425.17,67.55 426.82,64.10 428.00,62.50 C429.18,60.90 429.92,60.72 431.00,59.30 C432.08,57.88 433.50,56.13 434.50,54.00 C435.50,51.87 436.25,48.37 437.00,46.50 C437.75,44.63 438.25,43.30 439.00,42.80 C439.75,42.30 440.67,43.53 441.50,43.50 C442.33,43.47 443.13,43.42 444.00,42.60 C444.87,41.78 445.80,39.62 446.70,38.60 C447.60,37.58 448.48,36.15 449.40,36.50 C450.32,36.85 451.27,39.07 452.20,40.70 C453.13,42.33 454.07,44.80 455.00,46.30 C455.93,47.80 456.75,48.85 457.80,49.70 C458.85,50.55 460.15,51.18 461.30,51.40 C462.45,51.62 463.62,51.30 464.70,51.00 C465.78,50.70 466.63,49.73 467.80,49.60 C468.97,49.47 470.13,50.07 471.70,50.20 C473.27,50.33 475.35,50.37 477.20,50.40 C479.05,50.43 481.28,50.57 482.80,50.40 C484.32,50.23 485.27,50.20 486.30,49.40 C487.33,48.60 488.08,47.28 489.00,45.60 C489.92,43.92 490.75,41.38 491.80,39.30 C492.85,37.22 494.13,34.95 495.30,33.10 C496.47,31.25 497.70,29.78 498.80,28.20 C499.90,26.62 500.82,23.63 501.90,23.60 C502.98,23.57 504.07,25.52 505.30,28.00 C506.53,30.48 507.87,35.20 509.30,38.50 C510.73,41.80 512.37,45.08 513.90,47.80 C515.43,50.52 516.80,52.70 518.50,54.80 C520.20,56.90 522.25,59.03 524.10,60.40 C525.95,61.77 528.07,62.57 529.60,63.00 C531.13,63.43 531.90,63.43 533.30,63.00 C534.70,62.57 536.60,61.43 538.00,60.40 C539.40,59.37 540.47,56.50 541.70,56.80 C542.93,57.10 544.02,60.77 545.40,62.20 C546.78,63.63 548.30,64.23 550.00,65.40 C551.70,66.57 553.60,68.10 555.60,69.20 C557.60,70.30 559.85,71.15 562.00,72.00 C564.15,72.85 566.42,73.58 568.50,74.30 C570.58,75.02 572.40,76.20 574.50,76.30 C576.60,76.40 578.97,75.22 581.10,74.90 C583.23,74.58 585.45,74.62 587.30,74.40 C589.15,74.18 590.67,74.28 592.20,73.60 C593.73,72.92 595.05,71.57 596.50,70.30 C597.95,69.03 599.55,67.03 600.90,66.00 C602.25,64.97 603.37,63.90 604.60,64.10 C605.83,64.30 607.17,66.17 608.30,67.20 C609.43,68.23 610.48,69.63 611.40,70.30 C612.32,70.97 612.88,71.40 613.80,71.20 C614.72,71.00 615.77,70.07 616.90,69.10 C618.03,68.13 619.37,66.28 620.60,65.40 C621.83,64.52 623.07,63.90 624.30,63.80 C625.53,63.70 626.55,64.13 628.00,64.80 C629.45,65.47 631.55,67.12 633.00,67.80 C634.45,68.48 635.67,68.78 636.70,68.90 C637.73,69.02 638.27,68.77 639.20,68.50 C640.13,68.23 641.17,67.28 642.30,67.30 C643.43,67.32 644.35,68.27 646.00,68.60 C647.65,68.93 650.15,69.18 652.20,69.30 C654.25,69.42 656.45,69.23 658.30,69.30 C660.15,69.37 661.75,69.80 663.30,69.70 C664.85,69.60 666.42,69.02 667.60,68.70 C668.78,68.38 669.27,67.70 670.40,67.80 C671.53,67.90 672.92,69.03 674.40,69.30 C675.88,69.57 677.97,69.38 679.30,69.40 C680.63,69.42 681.88,69.40 682.40,69.40" fill="none" stroke="#6fe2e0" stroke-width="1.0" stroke-linejoin="round"/>
<path d="M26.90,201.50 C28.83,201.50 34.57,201.43 38.50,201.50 C42.43,201.57 46.18,202.00 50.50,201.90 C54.82,201.80 60.22,201.18 64.40,200.90 C68.58,200.62 73.00,200.38 75.60,200.20 C78.20,200.02 77.90,200.12 80.00,199.80 C82.10,199.48 85.48,198.70 88.20,198.30 C90.92,197.90 93.58,197.72 96.30,197.40 C99.02,197.08 102.00,196.70 104.50,196.40 C107.00,196.10 109.05,195.90 111.30,195.60 C113.55,195.30 115.97,195.05 118.00,194.60 C120.03,194.15 121.45,193.68 123.50,192.90 C125.55,192.12 128.03,190.97 130.30,189.90 C132.57,188.83 135.07,187.40 137.10,186.50 C139.13,185.60 140.70,185.13 142.50,184.50 C144.30,183.87 145.87,183.20 147.90,182.70 C149.93,182.20 152.13,181.90 154.70,181.50 C157.27,181.10 160.93,180.92 163.30,180.30 C165.67,179.68 167.05,178.92 168.90,177.80 C170.75,176.68 172.60,175.03 174.40,173.60 C176.20,172.17 178.30,169.32 179.70,169.20 C181.10,169.08 181.70,171.23 182.80,172.90 C183.90,174.57 185.03,177.28 186.30,179.20 C187.57,181.12 188.90,183.02 190.40,184.40 C191.90,185.78 193.33,186.68 195.30,187.50 C197.27,188.32 199.65,188.83 202.20,189.30 C204.75,189.77 208.40,190.18 210.60,190.30 C212.80,190.42 213.78,190.70 215.40,190.00 C217.02,189.30 218.80,188.25 220.30,186.10 C221.80,183.95 223.25,179.53 224.40,177.10 C225.55,174.67 226.33,172.85 227.20,171.50 C228.07,170.15 228.65,168.88 229.60,169.00 C230.55,169.12 231.78,170.62 232.90,172.20 C234.02,173.78 235.15,176.65 236.30,178.50 C237.45,180.35 238.63,182.20 239.80,183.30 C240.97,184.40 242.03,185.43 243.30,185.10 C244.57,184.77 246.02,183.33 247.40,181.30 C248.78,179.27 250.43,174.92 251.60,172.90 C252.77,170.88 253.47,170.00 254.40,169.20 C255.33,168.40 256.17,167.95 257.20,168.10 C258.23,168.25 259.45,168.83 260.60,170.10 C261.75,171.37 262.82,174.23 264.10,175.70 C265.38,177.17 266.92,179.13 268.30,178.90 C269.68,178.67 271.13,176.10 272.40,174.30 C273.67,172.50 274.73,169.48 275.90,168.10 C277.07,166.72 278.23,165.97 279.40,166.00 C280.57,166.03 281.75,167.03 282.90,168.30 C284.05,169.57 285.03,172.07 286.30,173.60 C287.57,175.13 288.98,176.57 290.50,177.50 C292.02,178.43 293.55,178.95 295.40,179.20 C297.25,179.45 299.90,179.15 301.60,179.00 C303.30,178.85 303.55,178.45 305.60,178.30 C307.65,178.15 311.37,178.37 313.90,178.10 C316.43,177.83 318.72,177.47 320.80,176.70 C322.88,175.93 324.50,174.55 326.40,173.50 C328.30,172.45 330.47,170.52 332.20,170.40 C333.93,170.28 335.22,171.75 336.80,172.80 C338.38,173.85 339.85,175.73 341.70,176.70 C343.55,177.67 346.05,178.55 347.90,178.60 C349.75,178.65 351.07,177.97 352.80,177.00 C354.53,176.03 356.45,174.38 358.30,172.80 C360.15,171.22 362.27,168.82 363.90,167.50 C365.53,166.18 366.83,165.18 368.10,164.90 C369.37,164.62 370.28,165.52 371.50,165.80 C372.72,166.08 373.97,166.90 375.40,166.60 C376.83,166.30 378.47,165.07 380.10,164.00 C381.73,162.93 383.50,161.40 385.20,160.20 C386.90,159.00 388.88,157.58 390.30,156.80 C391.72,156.02 392.57,155.43 393.70,155.50 C394.83,155.57 395.68,155.78 397.10,157.20 C398.52,158.62 400.50,161.88 402.20,164.00 C403.90,166.12 405.60,168.35 407.30,169.90 C409.00,171.45 410.48,171.97 412.40,173.30 C414.32,174.63 416.97,177.70 418.80,177.90 C420.63,178.10 421.93,176.03 423.40,174.50 C424.87,172.97 426.05,170.32 427.60,168.70 C429.15,167.08 430.85,166.02 432.70,164.80 C434.55,163.58 437.00,163.23 438.70,161.40 C440.40,159.57 441.63,156.67 442.90,153.80 C444.17,150.93 445.08,146.62 446.30,144.20 C447.52,141.78 448.88,139.60 450.20,139.30 C451.52,139.00 452.50,141.22 454.20,142.40 C455.90,143.58 458.07,145.95 460.40,146.40 C462.73,146.85 465.88,145.50 468.20,145.10 C470.52,144.70 472.25,144.25 474.30,144.00 C476.35,143.75 478.43,144.32 480.50,143.60 C482.57,142.88 484.63,141.12 486.70,139.70 C488.77,138.28 490.83,136.55 492.90,135.10 C494.97,133.65 497.17,132.37 499.10,131.00 C501.03,129.63 502.70,127.02 504.50,126.90 C506.30,126.78 507.98,128.68 509.90,130.30 C511.82,131.92 513.98,134.32 516.00,136.60 C518.02,138.88 520.12,141.43 522.00,144.00 C523.88,146.57 525.38,149.25 527.30,152.00 C529.22,154.75 531.70,158.40 533.50,160.50 C535.30,162.60 536.03,163.32 538.10,164.60 C540.17,165.88 543.07,166.83 545.90,168.20 C548.73,169.57 551.77,171.90 555.10,172.80 C558.43,173.70 562.82,173.17 565.90,173.60 C568.98,174.03 570.52,175.10 573.60,175.40 C576.68,175.70 580.82,175.40 584.40,175.40 C587.98,175.40 592.02,175.98 595.10,175.40 C598.18,174.82 600.28,172.85 602.90,171.90 C605.52,170.95 608.40,170.47 610.80,169.70 C613.20,168.93 614.90,167.70 617.30,167.30 C619.70,166.90 622.57,167.18 625.20,167.30 C627.83,167.42 630.47,167.77 633.10,168.00 C635.73,168.23 638.58,168.82 641.00,168.70 C643.42,168.58 645.20,167.92 647.60,167.30 C650.00,166.68 652.78,165.65 655.40,165.00 C658.02,164.35 660.45,163.88 663.30,163.40 C666.15,162.92 670.20,162.65 672.50,162.10 C674.80,161.55 675.45,160.65 677.10,160.10 C678.75,159.55 681.52,159.02 682.40,158.80" fill="none" stroke="#a8a6ea" stroke-width="2.0" stroke-opacity="0.35" stroke-linejoin="round"/><path d="M26.90,201.50 C28.83,201.50 34.57,201.43 38.50,201.50 C42.43,201.57 46.18,202.00 50.50,201.90 C54.82,201.80 60.22,201.18 64.40,200.90 C68.58,200.62 73.00,200.38 75.60,200.20 C78.20,200.02 77.90,200.12 80.00,199.80 C82.10,199.48 85.48,198.70 88.20,198.30 C90.92,197.90 93.58,197.72 96.30,197.40 C99.02,197.08 102.00,196.70 104.50,196.40 C107.00,196.10 109.05,195.90 111.30,195.60 C113.55,195.30 115.97,195.05 118.00,194.60 C120.03,194.15 121.45,193.68 123.50,192.90 C125.55,192.12 128.03,190.97 130.30,189.90 C132.57,188.83 135.07,187.40 137.10,186.50 C139.13,185.60 140.70,185.13 142.50,184.50 C144.30,183.87 145.87,183.20 147.90,182.70 C149.93,182.20 152.13,181.90 154.70,181.50 C157.27,181.10 160.93,180.92 163.30,180.30 C165.67,179.68 167.05,178.92 168.90,177.80 C170.75,176.68 172.60,175.03 174.40,173.60 C176.20,172.17 178.30,169.32 179.70,169.20 C181.10,169.08 181.70,171.23 182.80,172.90 C183.90,174.57 185.03,177.28 186.30,179.20 C187.57,181.12 188.90,183.02 190.40,184.40 C191.90,185.78 193.33,186.68 195.30,187.50 C197.27,188.32 199.65,188.83 202.20,189.30 C204.75,189.77 208.40,190.18 210.60,190.30 C212.80,190.42 213.78,190.70 215.40,190.00 C217.02,189.30 218.80,188.25 220.30,186.10 C221.80,183.95 223.25,179.53 224.40,177.10 C225.55,174.67 226.33,172.85 227.20,171.50 C228.07,170.15 228.65,168.88 229.60,169.00 C230.55,169.12 231.78,170.62 232.90,172.20 C234.02,173.78 235.15,176.65 236.30,178.50 C237.45,180.35 238.63,182.20 239.80,183.30 C240.97,184.40 242.03,185.43 243.30,185.10 C244.57,184.77 246.02,183.33 247.40,181.30 C248.78,179.27 250.43,174.92 251.60,172.90 C252.77,170.88 253.47,170.00 254.40,169.20 C255.33,168.40 256.17,167.95 257.20,168.10 C258.23,168.25 259.45,168.83 260.60,170.10 C261.75,171.37 262.82,174.23 264.10,175.70 C265.38,177.17 266.92,179.13 268.30,178.90 C269.68,178.67 271.13,176.10 272.40,174.30 C273.67,172.50 274.73,169.48 275.90,168.10 C277.07,166.72 278.23,165.97 279.40,166.00 C280.57,166.03 281.75,167.03 282.90,168.30 C284.05,169.57 285.03,172.07 286.30,173.60 C287.57,175.13 288.98,176.57 290.50,177.50 C292.02,178.43 293.55,178.95 295.40,179.20 C297.25,179.45 299.90,179.15 301.60,179.00 C303.30,178.85 303.55,178.45 305.60,178.30 C307.65,178.15 311.37,178.37 313.90,178.10 C316.43,177.83 318.72,177.47 320.80,176.70 C322.88,175.93 324.50,174.55 326.40,173.50 C328.30,172.45 330.47,170.52 332.20,170.40 C333.93,170.28 335.22,171.75 336.80,172.80 C338.38,173.85 339.85,175.73 341.70,176.70 C343.55,177.67 346.05,178.55 347.90,178.60 C349.75,178.65 351.07,177.97 352.80,177.00 C354.53,176.03 356.45,174.38 358.30,172.80 C360.15,171.22 362.27,168.82 363.90,167.50 C365.53,166.18 366.83,165.18 368.10,164.90 C369.37,164.62 370.28,165.52 371.50,165.80 C372.72,166.08 373.97,166.90 375.40,166.60 C376.83,166.30 378.47,165.07 380.10,164.00 C381.73,162.93 383.50,161.40 385.20,160.20 C386.90,159.00 388.88,157.58 390.30,156.80 C391.72,156.02 392.57,155.43 393.70,155.50 C394.83,155.57 395.68,155.78 397.10,157.20 C398.52,158.62 400.50,161.88 402.20,164.00 C403.90,166.12 405.60,168.35 407.30,169.90 C409.00,171.45 410.48,171.97 412.40,173.30 C414.32,174.63 416.97,177.70 418.80,177.90 C420.63,178.10 421.93,176.03 423.40,174.50 C424.87,172.97 426.05,170.32 427.60,168.70 C429.15,167.08 430.85,166.02 432.70,164.80 C434.55,163.58 437.00,163.23 438.70,161.40 C440.40,159.57 441.63,156.67 442.90,153.80 C444.17,150.93 445.08,146.62 446.30,144.20 C447.52,141.78 448.88,139.60 450.20,139.30 C451.52,139.00 452.50,141.22 454.20,142.40 C455.90,143.58 458.07,145.95 460.40,146.40 C462.73,146.85 465.88,145.50 468.20,145.10 C470.52,144.70 472.25,144.25 474.30,144.00 C476.35,143.75 478.43,144.32 480.50,143.60 C482.57,142.88 484.63,141.12 486.70,139.70 C488.77,138.28 490.83,136.55 492.90,135.10 C494.97,133.65 497.17,132.37 499.10,131.00 C501.03,129.63 502.70,127.02 504.50,126.90 C506.30,126.78 507.98,128.68 509.90,130.30 C511.82,131.92 513.98,134.32 516.00,136.60 C518.02,138.88 520.12,141.43 522.00,144.00 C523.88,146.57 525.38,149.25 527.30,152.00 C529.22,154.75 531.70,158.40 533.50,160.50 C535.30,162.60 536.03,163.32 538.10,164.60 C540.17,165.88 543.07,166.83 545.90,168.20 C548.73,169.57 551.77,171.90 555.10,172.80 C558.43,173.70 562.82,173.17 565.90,173.60 C568.98,174.03 570.52,175.10 573.60,175.40 C576.68,175.70 580.82,175.40 584.40,175.40 C587.98,175.40 592.02,175.98 595.10,175.40 C598.18,174.82 600.28,172.85 602.90,171.90 C605.52,170.95 608.40,170.47 610.80,169.70 C613.20,168.93 614.90,167.70 617.30,167.30 C619.70,166.90 622.57,167.18 625.20,167.30 C627.83,167.42 630.47,167.77 633.10,168.00 C635.73,168.23 638.58,168.82 641.00,168.70 C643.42,168.58 645.20,167.92 647.60,167.30 C650.00,166.68 652.78,165.65 655.40,165.00 C658.02,164.35 660.45,163.88 663.30,163.40 C666.15,162.92 670.20,162.65 672.50,162.10 C674.80,161.55 675.45,160.65 677.10,160.10 C678.75,159.55 681.52,159.02 682.40,158.80" fill="none" stroke="#6b66d2" stroke-width="1.0" stroke-linejoin="round"/>
<path d="M26.30,304.50 C29.82,304.50 41.95,304.60 47.40,304.50 C52.85,304.40 55.12,304.08 59.00,303.90 C62.88,303.72 67.18,303.58 70.70,303.40 C74.22,303.22 77.57,303.03 80.10,302.80 C82.63,302.57 84.15,302.45 85.90,302.00 C87.65,301.55 89.23,300.75 90.60,300.10 C91.97,299.45 92.73,298.88 94.10,298.10 C95.47,297.32 97.43,295.92 98.80,295.40 C100.17,294.88 100.87,295.03 102.30,295.00 C103.73,294.97 105.93,295.27 107.40,295.20 C108.87,295.13 109.97,294.80 111.10,294.60 C112.23,294.40 112.97,293.90 114.20,294.00 C115.43,294.10 116.75,294.87 118.50,295.20 C120.25,295.53 122.85,296.00 124.70,296.00 C126.55,296.00 127.55,295.82 129.60,295.20 C131.65,294.58 134.73,293.07 137.00,292.30 C139.27,291.53 140.72,291.08 143.20,290.60 C145.68,290.12 149.22,289.77 151.90,289.40 C154.58,289.03 157.25,288.82 159.30,288.40 C161.35,287.98 162.57,287.68 164.20,286.90 C165.83,286.12 167.45,284.85 169.10,283.70 C170.75,282.55 172.38,281.23 174.10,280.00 C175.82,278.77 177.88,276.18 179.40,276.30 C180.92,276.42 181.87,278.97 183.20,280.70 C184.53,282.43 185.90,284.85 187.40,286.70 C188.90,288.55 190.58,290.48 192.20,291.80 C193.82,293.12 195.48,293.97 197.10,294.60 C198.72,295.23 200.17,295.43 201.90,295.60 C203.63,295.77 205.87,295.65 207.50,295.60 C209.13,295.55 210.32,295.82 211.70,295.30 C213.08,294.78 214.42,294.00 215.80,292.50 C217.18,291.00 218.60,288.62 220.00,286.30 C221.40,283.98 223.05,280.57 224.20,278.60 C225.35,276.63 226.03,275.40 226.90,274.50 C227.77,273.60 228.47,273.10 229.40,273.20 C230.33,273.30 231.28,273.62 232.50,275.10 C233.72,276.58 235.32,280.13 236.70,282.10 C238.08,284.07 239.53,285.87 240.80,286.90 C242.07,287.93 242.95,289.20 244.30,288.30 C245.65,287.40 247.50,283.77 248.90,281.50 C250.30,279.23 251.55,276.22 252.70,274.70 C253.85,273.18 254.77,272.78 255.80,272.40 C256.83,272.02 257.87,271.93 258.90,272.40 C259.93,272.87 260.97,274.03 262.00,275.20 C263.03,276.37 264.07,278.37 265.10,279.40 C266.13,280.43 267.05,281.67 268.20,281.40 C269.35,281.13 270.85,279.17 272.00,277.80 C273.15,276.43 274.07,274.40 275.10,273.20 C276.13,272.00 277.17,270.60 278.20,270.60 C279.23,270.60 280.13,271.87 281.30,273.20 C282.47,274.53 283.78,277.05 285.20,278.60 C286.62,280.15 288.00,281.47 289.80,282.50 C291.60,283.53 294.20,284.68 296.00,284.80 C297.80,284.92 299.18,283.95 300.60,283.20 C302.02,282.45 303.60,280.95 304.50,280.30 C305.40,279.65 305.10,279.18 306.00,279.30 C306.90,279.42 308.23,280.55 309.90,281.00 C311.57,281.45 314.08,281.97 316.00,282.00 C317.92,282.03 319.80,281.62 321.40,281.20 C323.00,280.78 323.80,280.43 325.60,279.50 C327.40,278.57 330.35,275.83 332.20,275.60 C334.05,275.37 335.27,277.30 336.70,278.10 C338.13,278.90 339.18,279.78 340.80,280.40 C342.42,281.02 344.55,281.80 346.40,281.80 C348.25,281.80 350.05,281.43 351.90,280.40 C353.75,279.37 355.75,277.45 357.50,275.60 C359.25,273.75 360.57,271.38 362.40,269.30 C364.23,267.22 366.73,263.93 368.50,263.10 C370.27,262.27 371.50,264.02 373.00,264.30 C374.50,264.58 375.92,265.05 377.50,264.80 C379.08,264.55 380.73,263.60 382.50,262.80 C384.27,262.00 386.48,260.82 388.10,260.00 C389.72,259.18 390.72,257.90 392.20,257.90 C393.68,257.90 395.62,259.15 397.00,260.00 C398.38,260.85 399.33,261.60 400.50,263.00 C401.67,264.40 402.75,266.52 404.00,268.40 C405.25,270.28 406.42,272.53 408.00,274.30 C409.58,276.07 411.50,277.65 413.50,279.00 C415.50,280.35 418.17,282.48 420.00,282.40 C421.83,282.32 423.00,280.18 424.50,278.50 C426.00,276.82 427.35,274.08 429.00,272.30 C430.65,270.52 432.62,269.30 434.40,267.80 C436.18,266.30 438.22,264.95 439.70,263.30 C441.18,261.65 442.10,260.52 443.30,257.90 C444.50,255.28 445.77,250.23 446.90,247.60 C448.03,244.97 449.07,242.40 450.10,242.10 C451.13,241.80 452.00,244.35 453.10,245.80 C454.20,247.25 455.35,249.52 456.70,250.80 C458.05,252.08 459.70,253.05 461.20,253.50 C462.70,253.95 463.92,253.42 465.70,253.50 C467.48,253.58 469.62,253.97 471.90,254.00 C474.18,254.03 477.22,254.37 479.40,253.70 C481.58,253.03 483.13,251.70 485.00,250.00 C486.87,248.30 488.60,245.70 490.60,243.50 C492.60,241.30 494.93,238.83 497.00,236.80 C499.07,234.77 501.15,231.73 503.00,231.30 C504.85,230.87 506.32,232.25 508.10,234.20 C509.88,236.15 511.83,240.15 513.70,243.00 C515.57,245.85 517.53,248.58 519.30,251.30 C521.07,254.02 522.45,256.75 524.30,259.30 C526.15,261.85 528.60,264.85 530.40,266.60 C532.20,268.35 533.68,269.22 535.10,269.80 C536.52,270.38 537.62,269.78 538.90,270.10 C540.18,270.42 541.38,270.85 542.80,271.70 C544.22,272.55 545.73,274.05 547.40,275.20 C549.07,276.35 551.00,277.77 552.80,278.60 C554.60,279.43 556.27,279.93 558.20,280.20 C560.13,280.47 562.33,280.08 564.40,280.20 C566.47,280.32 568.80,280.65 570.60,280.90 C572.40,281.15 573.53,281.62 575.20,281.70 C576.87,281.78 578.85,281.60 580.60,281.40 C582.35,281.20 584.13,280.67 585.70,280.50 C587.27,280.33 588.58,280.42 590.00,280.40 C591.42,280.38 592.58,280.75 594.20,280.40 C595.82,280.05 598.08,279.07 599.70,278.30 C601.32,277.53 602.70,276.45 603.90,275.80 C605.10,275.15 605.87,274.40 606.90,274.40 C607.93,274.40 608.87,275.57 610.10,275.80 C611.33,276.03 612.90,276.03 614.30,275.80 C615.70,275.57 617.12,274.78 618.50,274.40 C619.88,274.02 621.22,273.50 622.60,273.50 C623.98,273.50 625.28,273.93 626.80,274.40 C628.32,274.87 629.97,275.87 631.70,276.30 C633.43,276.73 635.40,277.00 637.20,277.00 C639.00,277.00 640.77,276.27 642.50,276.30 C644.23,276.33 645.70,277.28 647.60,277.20 C649.50,277.12 651.47,276.23 653.90,275.80 C656.33,275.37 659.42,274.98 662.20,274.60 C664.98,274.22 668.05,273.85 670.60,273.50 C673.15,273.15 675.53,272.85 677.50,272.50 C679.47,272.15 681.58,271.58 682.40,271.40" fill="none" stroke="#f2a8b0" stroke-width="2.0" stroke-opacity="0.35" stroke-linejoin="round"/><path d="M26.30,304.50 C29.82,304.50 41.95,304.60 47.40,304.50 C52.85,304.40 55.12,304.08 59.00,303.90 C62.88,303.72 67.18,303.58 70.70,303.40 C74.22,303.22 77.57,303.03 80.10,302.80 C82.63,302.57 84.15,302.45 85.90,302.00 C87.65,301.55 89.23,300.75 90.60,300.10 C91.97,299.45 92.73,298.88 94.10,298.10 C95.47,297.32 97.43,295.92 98.80,295.40 C100.17,294.88 100.87,295.03 102.30,295.00 C103.73,294.97 105.93,295.27 107.40,295.20 C108.87,295.13 109.97,294.80 111.10,294.60 C112.23,294.40 112.97,293.90 114.20,294.00 C115.43,294.10 116.75,294.87 118.50,295.20 C120.25,295.53 122.85,296.00 124.70,296.00 C126.55,296.00 127.55,295.82 129.60,295.20 C131.65,294.58 134.73,293.07 137.00,292.30 C139.27,291.53 140.72,291.08 143.20,290.60 C145.68,290.12 149.22,289.77 151.90,289.40 C154.58,289.03 157.25,288.82 159.30,288.40 C161.35,287.98 162.57,287.68 164.20,286.90 C165.83,286.12 167.45,284.85 169.10,283.70 C170.75,282.55 172.38,281.23 174.10,280.00 C175.82,278.77 177.88,276.18 179.40,276.30 C180.92,276.42 181.87,278.97 183.20,280.70 C184.53,282.43 185.90,284.85 187.40,286.70 C188.90,288.55 190.58,290.48 192.20,291.80 C193.82,293.12 195.48,293.97 197.10,294.60 C198.72,295.23 200.17,295.43 201.90,295.60 C203.63,295.77 205.87,295.65 207.50,295.60 C209.13,295.55 210.32,295.82 211.70,295.30 C213.08,294.78 214.42,294.00 215.80,292.50 C217.18,291.00 218.60,288.62 220.00,286.30 C221.40,283.98 223.05,280.57 224.20,278.60 C225.35,276.63 226.03,275.40 226.90,274.50 C227.77,273.60 228.47,273.10 229.40,273.20 C230.33,273.30 231.28,273.62 232.50,275.10 C233.72,276.58 235.32,280.13 236.70,282.10 C238.08,284.07 239.53,285.87 240.80,286.90 C242.07,287.93 242.95,289.20 244.30,288.30 C245.65,287.40 247.50,283.77 248.90,281.50 C250.30,279.23 251.55,276.22 252.70,274.70 C253.85,273.18 254.77,272.78 255.80,272.40 C256.83,272.02 257.87,271.93 258.90,272.40 C259.93,272.87 260.97,274.03 262.00,275.20 C263.03,276.37 264.07,278.37 265.10,279.40 C266.13,280.43 267.05,281.67 268.20,281.40 C269.35,281.13 270.85,279.17 272.00,277.80 C273.15,276.43 274.07,274.40 275.10,273.20 C276.13,272.00 277.17,270.60 278.20,270.60 C279.23,270.60 280.13,271.87 281.30,273.20 C282.47,274.53 283.78,277.05 285.20,278.60 C286.62,280.15 288.00,281.47 289.80,282.50 C291.60,283.53 294.20,284.68 296.00,284.80 C297.80,284.92 299.18,283.95 300.60,283.20 C302.02,282.45 303.60,280.95 304.50,280.30 C305.40,279.65 305.10,279.18 306.00,279.30 C306.90,279.42 308.23,280.55 309.90,281.00 C311.57,281.45 314.08,281.97 316.00,282.00 C317.92,282.03 319.80,281.62 321.40,281.20 C323.00,280.78 323.80,280.43 325.60,279.50 C327.40,278.57 330.35,275.83 332.20,275.60 C334.05,275.37 335.27,277.30 336.70,278.10 C338.13,278.90 339.18,279.78 340.80,280.40 C342.42,281.02 344.55,281.80 346.40,281.80 C348.25,281.80 350.05,281.43 351.90,280.40 C353.75,279.37 355.75,277.45 357.50,275.60 C359.25,273.75 360.57,271.38 362.40,269.30 C364.23,267.22 366.73,263.93 368.50,263.10 C370.27,262.27 371.50,264.02 373.00,264.30 C374.50,264.58 375.92,265.05 377.50,264.80 C379.08,264.55 380.73,263.60 382.50,262.80 C384.27,262.00 386.48,260.82 388.10,260.00 C389.72,259.18 390.72,257.90 392.20,257.90 C393.68,257.90 395.62,259.15 397.00,260.00 C398.38,260.85 399.33,261.60 400.50,263.00 C401.67,264.40 402.75,266.52 404.00,268.40 C405.25,270.28 406.42,272.53 408.00,274.30 C409.58,276.07 411.50,277.65 413.50,279.00 C415.50,280.35 418.17,282.48 420.00,282.40 C421.83,282.32 423.00,280.18 424.50,278.50 C426.00,276.82 427.35,274.08 429.00,272.30 C430.65,270.52 432.62,269.30 434.40,267.80 C436.18,266.30 438.22,264.95 439.70,263.30 C441.18,261.65 442.10,260.52 443.30,257.90 C444.50,255.28 445.77,250.23 446.90,247.60 C448.03,244.97 449.07,242.40 450.10,242.10 C451.13,241.80 452.00,244.35 453.10,245.80 C454.20,247.25 455.35,249.52 456.70,250.80 C458.05,252.08 459.70,253.05 461.20,253.50 C462.70,253.95 463.92,253.42 465.70,253.50 C467.48,253.58 469.62,253.97 471.90,254.00 C474.18,254.03 477.22,254.37 479.40,253.70 C481.58,253.03 483.13,251.70 485.00,250.00 C486.87,248.30 488.60,245.70 490.60,243.50 C492.60,241.30 494.93,238.83 497.00,236.80 C499.07,234.77 501.15,231.73 503.00,231.30 C504.85,230.87 506.32,232.25 508.10,234.20 C509.88,236.15 511.83,240.15 513.70,243.00 C515.57,245.85 517.53,248.58 519.30,251.30 C521.07,254.02 522.45,256.75 524.30,259.30 C526.15,261.85 528.60,264.85 530.40,266.60 C532.20,268.35 533.68,269.22 535.10,269.80 C536.52,270.38 537.62,269.78 538.90,270.10 C540.18,270.42 541.38,270.85 542.80,271.70 C544.22,272.55 545.73,274.05 547.40,275.20 C549.07,276.35 551.00,277.77 552.80,278.60 C554.60,279.43 556.27,279.93 558.20,280.20 C560.13,280.47 562.33,280.08 564.40,280.20 C566.47,280.32 568.80,280.65 570.60,280.90 C572.40,281.15 573.53,281.62 575.20,281.70 C576.87,281.78 578.85,281.60 580.60,281.40 C582.35,281.20 584.13,280.67 585.70,280.50 C587.27,280.33 588.58,280.42 590.00,280.40 C591.42,280.38 592.58,280.75 594.20,280.40 C595.82,280.05 598.08,279.07 599.70,278.30 C601.32,277.53 602.70,276.45 603.90,275.80 C605.10,275.15 605.87,274.40 606.90,274.40 C607.93,274.40 608.87,275.57 610.10,275.80 C611.33,276.03 612.90,276.03 614.30,275.80 C615.70,275.57 617.12,274.78 618.50,274.40 C619.88,274.02 621.22,273.50 622.60,273.50 C623.98,273.50 625.28,273.93 626.80,274.40 C628.32,274.87 629.97,275.87 631.70,276.30 C633.43,276.73 635.40,277.00 637.20,277.00 C639.00,277.00 640.77,276.27 642.50,276.30 C644.23,276.33 645.70,277.28 647.60,277.20 C649.50,277.12 651.47,276.23 653.90,275.80 C656.33,275.37 659.42,274.98 662.20,274.60 C664.98,274.22 668.05,273.85 670.60,273.50 C673.15,273.15 675.53,272.85 677.50,272.50 C679.47,272.15 681.58,271.58 682.40,271.40" fill="none" stroke="#e2646e" stroke-width="1.0" stroke-linejoin="round"/>
<line x1="99.40" y1="84.20" x2="99.40" y2="81.80" stroke="#555" stroke-width="0.75"/><text transform="translate(104.99,81.50) scale(0.920,1) rotate(-90)" font-size="5.15" fill="#3a3a3a">1732,03</text>
<line x1="145.70" y1="80.60" x2="145.70" y2="78.20" stroke="#555" stroke-width="0.75"/><text transform="translate(151.29,77.90) scale(0.920,1) rotate(-90)" font-size="5.15" fill="#3a3a3a">1651,90</text>
<line x1="175.60" y1="71.70" x2="175.60" y2="69.30" stroke="#555" stroke-width="0.75"/><text transform="translate(180.29,69.60) scale(0.920,1) rotate(-90)" font-size="5.15" fill="#3a3a3a">1599,92</text>
<line x1="227.90" y1="54.20" x2="227.90" y2="51.80" stroke="#555" stroke-width="0.75"/><text transform="translate(233.69,51.90) scale(0.920,1) rotate(-90)" font-size="5.15" fill="#3a3a3a">1507,95</text>
<line x1="260.10" y1="59.10" x2="260.10" y2="56.70" stroke="#555" stroke-width="0.75"/><text transform="translate(265.99,56.70) scale(0.920,1) rotate(-90)" font-size="5.15" fill="#3a3a3a">1451,96</text>
<line x1="277.30" y1="65.20" x2="277.30" y2="62.80" stroke="#555" stroke-width="0.75"/><text transform="translate(283.19,62.90) scale(0.920,1) rotate(-90)" font-size="5.15" fill="#3a3a3a">1421,55</text>
<line x1="305.80" y1="66.80" x2="305.80" y2="64.40" stroke="#555" stroke-width="0.75"/><text transform="translate(311.49,64.70) scale(0.920,1) rotate(-90)" font-size="5.15" fill="#3a3a3a">1372,91</text>
<line x1="329.70" y1="68.00" x2="329.70" y2="65.60" stroke="#555" stroke-width="0.75"/><text transform="translate(335.29,66.70) scale(0.920,1) rotate(-90)" font-size="5.15" fill="#3a3a3a">1331,13</text>
<line x1="369.20" y1="40.90" x2="369.20" y2="38.50" stroke="#555" stroke-width="0.75"/><text transform="translate(374.69,37.90) scale(0.920,1) rotate(-90)" font-size="5.15" fill="#3a3a3a">1262,76</text>
<line x1="392.60" y1="40.20" x2="392.60" y2="37.80" stroke="#555" stroke-width="0.75"/><text transform="translate(398.69,37.50) scale(0.920,1) rotate(-90)" font-size="5.15" fill="#3a3a3a">1221,37</text>
<line x1="439.00" y1="42.60" x2="439.00" y2="40.20" stroke="#555" stroke-width="0.75"/><text transform="translate(442.69,40.70) scale(0.920,1) rotate(-90)" font-size="5.15" fill="#3a3a3a">1139,82</text>
<line x1="449.40" y1="36.30" x2="449.40" y2="33.90" stroke="#555" stroke-width="0.75"/><text transform="translate(453.99,34.70) scale(0.920,1) rotate(-90)" font-size="5.15" fill="#3a3a3a">1123,26</text>
<line x1="467.80" y1="49.40" x2="467.80" y2="47.00" stroke="#555" stroke-width="0.75"/><text transform="translate(474.19,47.30) scale(0.920,1) rotate(-90)" font-size="5.15" fill="#3a3a3a">1090,86</text>
<line x1="501.90" y1="23.40" x2="501.90" y2="21.00" stroke="#555" stroke-width="0.75"/><text transform="translate(507.79,21.40) scale(0.920,1) rotate(-90)" font-size="5.15" fill="#3a3a3a">1031,54</text>
<line x1="541.70" y1="56.60" x2="541.70" y2="54.20" stroke="#555" stroke-width="0.75"/><text transform="translate(547.39,55.50) scale(0.920,1) rotate(-90)" font-size="5.15" fill="#3a3a3a">962,46</text>
<line x1="604.60" y1="63.90" x2="604.60" y2="61.50" stroke="#555" stroke-width="0.75"/><text transform="translate(610.19,61.80) scale(0.920,1) rotate(-90)" font-size="5.15" fill="#3a3a3a">853,33</text>
<line x1="624.30" y1="63.60" x2="624.30" y2="61.20" stroke="#555" stroke-width="0.75"/><text transform="translate(629.99,61.30) scale(0.920,1) rotate(-90)" font-size="5.15" fill="#3a3a3a">818,55</text>
<line x1="642.30" y1="67.10" x2="642.30" y2="64.70" stroke="#555" stroke-width="0.75"/><text transform="translate(647.89,66.00) scale(0.920,1) rotate(-90)" font-size="5.15" fill="#3a3a3a">787,28</text>
<line x1="670.40" y1="67.60" x2="670.40" y2="65.20" stroke="#555" stroke-width="0.75"/><text transform="translate(675.19,66.10) scale(0.920,1) rotate(-90)" font-size="5.15" fill="#3a3a3a">738,64</text>
<line x1="179.70" y1="169.00" x2="179.70" y2="166.60" stroke="#555" stroke-width="0.75"/><text transform="translate(185.29,166.70) scale(0.920,1) rotate(-90)" font-size="5.15" fill="#3a3a3a">1592,40</text>
<line x1="229.60" y1="168.80" x2="229.60" y2="166.40" stroke="#555" stroke-width="0.75"/><text transform="translate(235.59,166.30) scale(0.920,1) rotate(-90)" font-size="5.15" fill="#3a3a3a">1505,22</text>
<line x1="257.20" y1="167.90" x2="257.20" y2="165.50" stroke="#555" stroke-width="0.75"/><text transform="translate(263.29,165.10) scale(0.920,1) rotate(-90)" font-size="5.15" fill="#3a3a3a">1457,07</text>
<line x1="279.40" y1="165.80" x2="279.40" y2="163.40" stroke="#555" stroke-width="0.75"/><text transform="translate(285.29,162.70) scale(0.920,1) rotate(-90)" font-size="5.15" fill="#3a3a3a">1419,10</text>
<line x1="332.20" y1="170.20" x2="332.20" y2="167.80" stroke="#555" stroke-width="0.75"/><text transform="translate(338.59,167.50) scale(0.920,1) rotate(-90)" font-size="5.15" fill="#3a3a3a">1326,71</text>
<line x1="368.10" y1="164.70" x2="368.10" y2="162.30" stroke="#555" stroke-width="0.75"/><text transform="translate(373.89,162.30) scale(0.920,1) rotate(-90)" font-size="5.15" fill="#3a3a3a">1263,87</text>
<line x1="393.70" y1="155.30" x2="393.70" y2="152.90" stroke="#555" stroke-width="0.75"/><text transform="translate(399.49,153.20) scale(0.920,1) rotate(-90)" font-size="5.15" fill="#3a3a3a">1220,64</text>
<line x1="450.20" y1="139.10" x2="450.20" y2="136.70" stroke="#555" stroke-width="0.75"/><text transform="translate(456.39,137.10) scale(0.920,1) rotate(-90)" font-size="5.15" fill="#3a3a3a">1121,22</text>
<line x1="504.50" y1="126.70" x2="504.50" y2="124.30" stroke="#555" stroke-width="0.75"/><text transform="translate(510.39,124.60) scale(0.920,1) rotate(-90)" font-size="5.15" fill="#3a3a3a">1026,81</text>
<line x1="114.20" y1="293.80" x2="114.20" y2="291.40" stroke="#555" stroke-width="0.75"/><text transform="translate(119.39,291.80) scale(0.920,1) rotate(-90)" font-size="5.15" fill="#3a3a3a">1706,51</text>
<line x1="179.40" y1="276.10" x2="179.40" y2="273.70" stroke="#555" stroke-width="0.75"/><text transform="translate(185.29,273.40) scale(0.920,1) rotate(-90)" font-size="5.15" fill="#3a3a3a">1592,89</text>
<line x1="229.40" y1="273.00" x2="229.40" y2="270.60" stroke="#555" stroke-width="0.75"/><text transform="translate(234.79,269.70) scale(0.920,1) rotate(-90)" font-size="5.15" fill="#3a3a3a">1506,42</text>
<line x1="278.20" y1="270.40" x2="278.20" y2="268.00" stroke="#555" stroke-width="0.75"/><text transform="translate(284.69,268.10) scale(0.920,1) rotate(-90)" font-size="5.15" fill="#3a3a3a">1420,71</text>
<line x1="306.00" y1="279.10" x2="306.00" y2="276.70" stroke="#555" stroke-width="0.75"/><text transform="translate(310.59,277.20) scale(0.920,1) rotate(-90)" font-size="5.15" fill="#3a3a3a">1373,30</text>
<line x1="332.20" y1="275.40" x2="332.20" y2="273.00" stroke="#555" stroke-width="0.75"/><text transform="translate(337.39,273.20) scale(0.920,1) rotate(-90)" font-size="5.15" fill="#3a3a3a">1327,05</text>
<line x1="368.50" y1="262.90" x2="368.50" y2="260.50" stroke="#555" stroke-width="0.75"/><text transform="translate(374.39,259.90) scale(0.920,1) rotate(-90)" font-size="5.15" fill="#3a3a3a">1263,22</text>
<line x1="392.20" y1="257.70" x2="392.20" y2="255.30" stroke="#555" stroke-width="0.75"/><text transform="translate(398.09,255.00) scale(0.920,1) rotate(-90)" font-size="5.15" fill="#3a3a3a">1222,57</text>
<line x1="450.10" y1="241.90" x2="450.10" y2="239.50" stroke="#555" stroke-width="0.75"/><text transform="translate(456.29,238.90) scale(0.920,1) rotate(-90)" font-size="5.15" fill="#3a3a3a">1122,22</text>
<line x1="503.00" y1="231.10" x2="503.00" y2="228.70" stroke="#555" stroke-width="0.75"/><text transform="translate(508.59,227.90) scale(0.920,1) rotate(-90)" font-size="5.15" fill="#3a3a3a">1030,40</text>
<line x1="564.40" y1="280.00" x2="564.40" y2="277.60" stroke="#555" stroke-width="0.75"/><text transform="translate(571.09,277.40) scale(0.920,1) rotate(-90)" font-size="5.15" fill="#3a3a3a">922,43</text>
<line x1="585.70" y1="280.30" x2="585.70" y2="277.90" stroke="#555" stroke-width="0.75"/><text transform="translate(590.59,277.40) scale(0.920,1) rotate(-90)" font-size="5.15" fill="#3a3a3a">886,57</text>
<line x1="606.90" y1="274.20" x2="606.90" y2="271.80" stroke="#555" stroke-width="0.75"/><text transform="translate(612.59,273.30) scale(0.920,1) rotate(-90)" font-size="5.15" fill="#3a3a3a">849,64</text>
<line x1="622.60" y1="273.30" x2="622.60" y2="270.90" stroke="#555" stroke-width="0.75"/><text transform="translate(627.79,271.70) scale(0.920,1) rotate(-90)" font-size="5.15" fill="#3a3a3a">822,13</text>
<line x1="642.50" y1="276.10" x2="642.50" y2="273.70" stroke="#555" stroke-width="0.75"/><text transform="translate(647.29,274.60) scale(0.920,1) rotate(-90)" font-size="5.15" fill="#3a3a3a">787,04</text>
<line x1="103.50" y1="295.10" x2="103.50" y2="284.10" stroke="#555" stroke-width="0.75"/>
<line x1="200.60" y1="295.60" x2="200.60" y2="276.50" stroke="#555" stroke-width="0.75"/>
<line x1="256.10" y1="272.40" x2="256.10" y2="260.80" stroke="#555" stroke-width="0.75"/>
<line x1="465.20" y1="253.50" x2="465.20" y2="225.90" stroke="#555" stroke-width="0.75"/>
<line x1="467.00" y1="253.70" x2="467.00" y2="236.10" stroke="#555" stroke-width="0.75"/>
<text transform="translate(109.39,283.10) scale(0.920,1) rotate(-90)" font-size="5.15" fill="#3a3a3a">1725,02</text>
<text transform="translate(206.59,275.40) scale(0.920,1) rotate(-90)" font-size="5.15" fill="#3a3a3a">1555,40</text>
<text transform="translate(210.29,284.30) scale(0.920,1) rotate(-90)" font-size="5.15" fill="#3a3a3a">1541,45</text>
<text transform="translate(211.39,294.90) scale(0.920,1) rotate(-90)" font-size="5.15" fill="#3a3a3a">1535,17</text>
<text transform="translate(261.79,259.80) scale(0.920,1) rotate(-90)" font-size="5.15" fill="#3a3a3a">1459,20</text>
<text transform="translate(263.79,269.60) scale(0.920,1) rotate(-90)" font-size="5.15" fill="#3a3a3a">1455,62</text>
<text transform="translate(471.99,225.80) scale(0.920,1) rotate(-90)" font-size="5.15" fill="#3a3a3a">1093,86</text>
<text transform="translate(472.39,231.80) scale(0.920,1) rotate(-90)" font-size="5.15" fill="#3a3a3a">1086,73</text>
<text transform="translate(475.39,249.80) scale(0.920,1) rotate(-90)" font-size="5.15" fill="#3a3a3a">1080,72</text>
<text transform="translate(475.79,241.80) scale(0.920,1) rotate(-90)" font-size="5.15" fill="#3a3a3a">1077,12</text></svg>
</body></html>
